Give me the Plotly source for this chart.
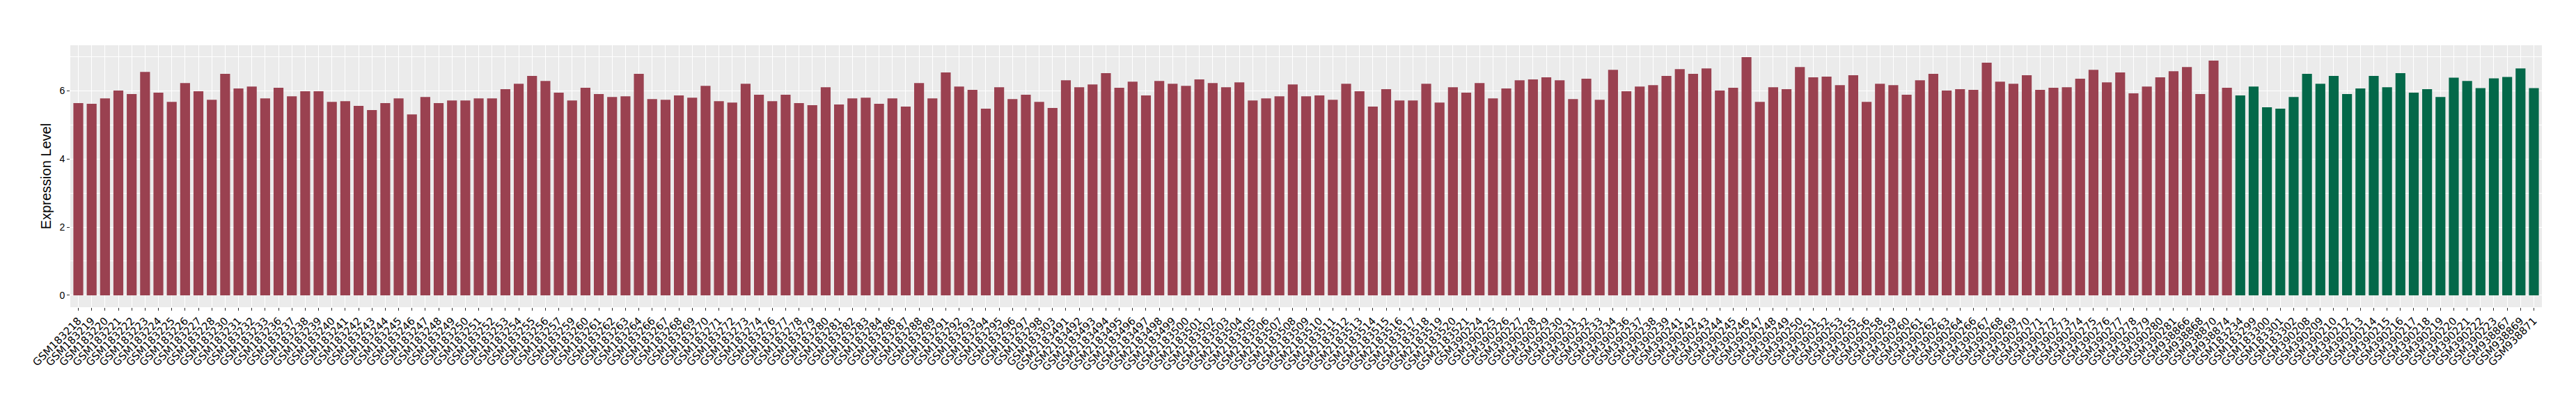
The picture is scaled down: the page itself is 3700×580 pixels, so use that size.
import plotly.graph_objects as go

# samples of the first group (maroon bars) and their expression levels
red_samples = [
    "GSM183218", "GSM183219", "GSM183220", "GSM183221", "GSM183222", "GSM183223",
    "GSM183224", "GSM183225", "GSM183226", "GSM183227", "GSM183228", "GSM183230",
    "GSM183231", "GSM183232", "GSM183233", "GSM183236", "GSM183237", "GSM183238",
    "GSM183239", "GSM183240", "GSM183241", "GSM183242", "GSM183243", "GSM183244",
    "GSM183245", "GSM183246", "GSM183247", "GSM183248", "GSM183249", "GSM183250",
    "GSM183251", "GSM183252", "GSM183253", "GSM183254", "GSM183255", "GSM183256",
    "GSM183257", "GSM183259", "GSM183260", "GSM183261", "GSM183262", "GSM183263",
    "GSM183264", "GSM183266", "GSM183267", "GSM183268", "GSM183269", "GSM183270",
    "GSM183271", "GSM183272", "GSM183273", "GSM183274", "GSM183276", "GSM183277",
    "GSM183278", "GSM183279", "GSM183280", "GSM183281", "GSM183282", "GSM183283",
    "GSM183284", "GSM183286", "GSM183287", "GSM183288", "GSM183289", "GSM183291",
    "GSM183292", "GSM183293", "GSM183294", "GSM183295", "GSM183296", "GSM183297",
    "GSM183298", "GSM183303",
    "GSM2183491", "GSM2183492", "GSM2183493", "GSM2183494", "GSM2183495",
    "GSM2183496", "GSM2183497", "GSM2183498", "GSM2183499", "GSM2183500",
    "GSM2183501", "GSM2183502", "GSM2183503", "GSM2183504", "GSM2183505",
    "GSM2183506", "GSM2183507", "GSM2183508", "GSM2183509", "GSM2183510",
    "GSM2183511", "GSM2183512", "GSM2183513", "GSM2183514", "GSM2183515",
    "GSM2183516", "GSM2183517", "GSM2183518", "GSM2183519", "GSM2183520",
    "GSM2183521",
    "GSM390224", "GSM390225", "GSM390226", "GSM390227", "GSM390228", "GSM390229",
    "GSM390230", "GSM390231", "GSM390232", "GSM390233", "GSM390234", "GSM390236",
    "GSM390237", "GSM390238", "GSM390239", "GSM390241", "GSM390242", "GSM390243",
    "GSM390244", "GSM390245", "GSM390246", "GSM390247", "GSM390248", "GSM390249",
    "GSM390250", "GSM390251", "GSM390252", "GSM390253", "GSM390255", "GSM390256",
    "GSM390258", "GSM390259", "GSM390260", "GSM390261", "GSM390262", "GSM390263",
    "GSM390264", "GSM390266", "GSM390267", "GSM390268", "GSM390269", "GSM390270",
    "GSM390271", "GSM390272", "GSM390273", "GSM390274", "GSM390275", "GSM390276",
    "GSM390277", "GSM390278", "GSM390279", "GSM390280", "GSM390281",
    "GSM938866", "GSM938868", "GSM938870", "GSM938874",
]
red_values = [
    5.64, 5.62, 5.78, 6.01, 5.91, 6.56, 5.95, 5.68, 6.23, 5.99, 5.74, 6.50,
    6.07, 6.13, 5.78, 6.09, 5.84, 5.99, 5.99, 5.68, 5.70, 5.56, 5.44, 5.64,
    5.78, 5.31, 5.82, 5.64, 5.72, 5.72, 5.78, 5.78, 6.05, 6.21, 6.44, 6.29,
    5.95, 5.72, 6.09, 5.91, 5.82, 5.84, 6.50, 5.76, 5.74, 5.87, 5.80, 6.15,
    5.70, 5.66, 6.21, 5.89, 5.70, 5.89, 5.64, 5.58, 6.11, 5.60, 5.78, 5.80,
    5.62, 5.78, 5.54, 6.23, 5.78, 6.54, 6.13, 6.03, 5.48, 6.11, 5.76, 5.89,
    5.68, 5.50,
    6.31, 6.11, 6.19, 6.52, 6.09, 6.27, 5.87, 6.29, 6.21, 6.15, 6.34, 6.23,
    6.11, 6.25, 5.72, 5.78, 5.84, 6.19, 5.84, 5.87, 5.74, 6.21, 5.99, 5.54,
    6.05, 5.72, 5.72, 6.21, 5.66, 6.11, 5.95,
    6.23, 5.78, 6.07, 6.31, 6.34, 6.40, 6.31, 5.76, 6.36, 5.74, 6.62, 5.99,
    6.13, 6.17, 6.44, 6.64, 6.50, 6.66, 6.01, 6.09, 6.99, 5.68, 6.11, 6.05,
    6.70, 6.40, 6.42, 6.17, 6.46, 5.68, 6.21, 6.17, 5.89, 6.31, 6.50, 6.01,
    6.05, 6.03, 6.83, 6.27, 6.21, 6.46, 6.03, 6.09, 6.11, 6.36, 6.62, 6.25,
    6.54, 5.93, 6.13, 6.40, 6.58,
    6.70, 5.91, 6.89, 6.09,
]

# samples of the second group (green bars)
green_samples = [
    "GSM183234", "GSM183299", "GSM183300", "GSM183301", "GSM183302",
    "GSM390208", "GSM390209", "GSM390210", "GSM390212", "GSM390213",
    "GSM390214", "GSM390215", "GSM390216", "GSM390217", "GSM390218",
    "GSM390219", "GSM390220", "GSM390221", "GSM390222", "GSM390223",
    "GSM938867", "GSM938869", "GSM938871",
]
green_values = [
    5.87, 6.13, 5.52, 5.48, 5.82,
    6.50, 6.21, 6.44, 5.91, 6.07,
    6.44, 6.11, 6.52, 5.95, 6.05,
    5.82, 6.39, 6.29, 6.08, 6.37,
    6.41, 6.66, 6.08,
]

y_ticks = [0, 2, 4, 6]

RED = "#9A4150"
GREEN = "#036849"

all_samples = red_samples + green_samples
n = len(all_samples)

fig = go.Figure()
fig.add_trace(go.Bar(x=red_samples, y=red_values, marker_color=RED,
                     marker_line_width=0, width=0.74))
fig.add_trace(go.Bar(x=green_samples, y=green_values, marker_color=GREEN,
                     marker_line_width=0, width=0.74))

fig.update_layout(
    width=3700, height=580,
    margin=dict(l=93, r=57, t=57, b=147),
    barmode="overlay", showlegend=False,
    plot_bgcolor="#EBEBEB", paper_bgcolor="white",
    font=dict(family="Liberation Sans, Arial, sans-serif", color="black"),
    xaxis=dict(
        type="category", categoryorder="array", categoryarray=all_samples,
        tickmode="array", tickvals=all_samples, ticktext=all_samples,
        range=[-0.6, n - 0.4], tickangle=-45, automargin=False,
        tickfont=dict(family="DejaVu Sans", size=15, color="black"),
        ticks="outside", ticklen=4, tickcolor="#333333", tickwidth=1,
        showgrid=True, gridcolor="white", gridwidth=1.1,
        showline=False, zeroline=False,
    ),
    yaxis=dict(
        range=[-0.35, 7.34], tickvals=y_ticks, automargin=False,
        tickfont=dict(size=14, color="black"),
        ticks="outside", ticklen=4, tickcolor="#333333", tickwidth=1,
        showgrid=True, gridcolor="white", gridwidth=1.1,
        minor=dict(tickvals=[1, 3, 5, 7], showgrid=True,
                   gridcolor="white", gridwidth=0.5, ticks=""),
        showline=False, zeroline=False,
        title=dict(text="Expression Level", font=dict(size=20), standoff=6),
    ),
)

fig.write_html("out.html")
